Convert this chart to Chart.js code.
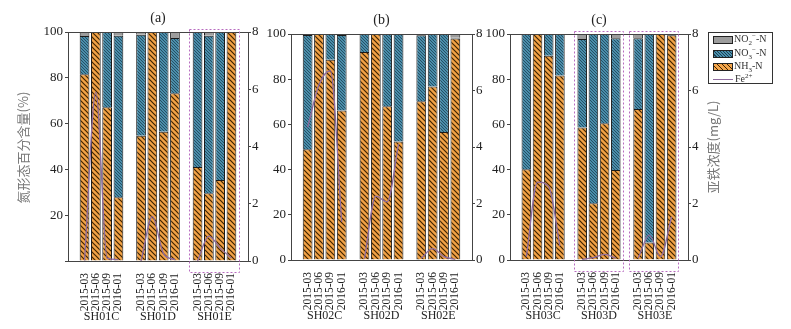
<!DOCTYPE html>
<html>
<head>
<meta charset="utf-8">
<script src="https://cdn.jsdelivr.net/npm/chart.js@4.4.1/dist/chart.umd.min.js"></script>
<style>
  body { margin: 0; background: #fff; }
  #wrap { position: relative; width: 791px; height: 329px; overflow: hidden; }
  #wrap canvas { position: absolute; top: 0; }
  #legend { position: absolute; left: 708px; top: 32px; width: 63px; height: 50px;
    border: 1px solid #333; font: 10px "Liberation Serif", serif; color: #333; }
  #legend .row { position: absolute; left: 4px; height: 12px; line-height: 12px; white-space: nowrap; }
  #legend .sw { display: inline-block; width: 18px; height: 6px; border: 1px solid #222;
    vertical-align: middle; margin-right: 1px; }
  #legend .ln { display: inline-block; width: 20px; height: 0; border-top: 1px solid #8e6b9e;
    vertical-align: middle; margin-right: 2px; }
  #legend sub, #legend sup { font-size: 7px; line-height: 0; }
</style>
</head>
<body>
<div id="wrap">
  <canvas id="ca" width="264" height="329" style="left:0"></canvas>
  <canvas id="cb" width="220" height="329" style="left:264px"></canvas>
  <canvas id="cc" width="246" height="329" style="left:484px"></canvas>
  <div id="legend">
    <div class="row" style="top:0px"><span class="sw" style="background:#9d9d9d"></span>NO<sub>2</sub><sup>−</sup>-N</div>
    <div class="row" style="top:14px"><span class="sw" style="background:repeating-linear-gradient(45deg,#4a90ad 0 1.4px,#1d3f52 1.4px 2.2px)"></span>NO<sub>3</sub><sup>−</sup>-N</div>
    <div class="row" style="top:27px"><span class="sw" style="background:repeating-linear-gradient(45deg,#f4a54a 0 2.6px,#3f2400 2.6px 3.5px)"></span>NH<sub>3</sub>-N</div>
    <div class="row" style="top:40px"><span class="ln"></span>Fe<sup>2+</sup></div>
  </div>
</div>
<script>
const dates = ["2015-03", "2015-06", "2015-09", "2016-01"];

// panel (a)
const groupsA = ["SH01C", "SH01D", "SH01E"];
const nh4A = [81.5, 100, 67.1, 27.8, 54.7, 100, 56.4, 73.3, 41.0, 29.6, 35.4, 100];
const no3A = [16.7, 0, 32.9, 70.6, 44.1, 0, 43.6, 24.1, 59.0, 68.8, 64.6, 0];
const no2A = [1.8, 0, 0, 1.6, 1.2, 0, 0, 2.6, 0, 1.6, 0, 0];
const feA = [0.02, 5.9, 0.1, 0.05, 0.0, 1.55, 0.25, 0.05, 0.0, 0.87, 0.45, 0.1];

// panel (b)
const groupsB = ["SH02C", "SH02D", "SH02E"];
const nh4B = [49.0, 100, 88.6, 66.2, 92.0, 100, 68.0, 52.4, 70.2, 76.8, 56.6, 98.0];
const no3B = [50.6, 0, 11.4, 33.4, 8.0, 0, 32.0, 47.6, 29.3, 23.2, 43.4, 0.3];
const no2B = [0.4, 0, 0, 0.4, 0, 0, 0, 0, 0.5, 0, 0, 1.7];
const feB = [4.7, 6.2, 6.7, 1.35, 0.05, 2.26, 2.06, 4.1, 0.06, 0.4, 0.12, 0.02];

// panel (c)
const groupsC = ["SH03C", "SH03D", "SH03E"];
const nh4C = [40.1, 100, 90.4, 81.6, 58.6, 25.1, 60.5, 39.8, 66.8, 7.7, 100, 99.5];
const no3C = [59.9, 0, 9.6, 18.4, 39.2, 74.9, 39.5, 58.3, 31.3, 92.3, 0, 0.5];
const no2C = [0, 0, 0, 0, 2.2, 0, 0, 1.9, 1.9, 0, 0, 0];
const feC = [0.12, 2.76, 2.6, 0.5, 0.02, 0.08, 0.2, 0.06, 0.06, 0.88, 0.12, 1.53];

const pctTicks = [0, 20, 40, 60, 80, 100];
const feTicks = [0, 2, 4, 6, 8];

const serif = "'Liberation Serif', 'Times New Roman', serif";
const cjk = "'Noto Sans CJK SC', sans-serif";
const axisColor = "#444";
const textColor = "#222";

function makeHatch(bg, fg, size, lw) {
  const c = document.createElement("canvas");
  c.width = size;
  c.height = size;
  const g = c.getContext("2d");
  g.fillStyle = bg;
  g.fillRect(0, 0, size, size);
  g.strokeStyle = fg;
  g.lineWidth = lw;
  g.beginPath();
  g.moveTo(-1, -1); g.lineTo(size + 1, size + 1);
  g.moveTo(-1, size - 1); g.lineTo(1, size + 1);
  g.moveTo(size - 1, -1); g.lineTo(size + 1, 1);
  g.stroke();
  return g.createPattern(c, "repeat");
}

const orangeHatch = makeHatch("#f2a246", "#3f2400", 5, 1.2);
const blueHatch = makeHatch("#4a8eab", "#1d3f52", 3, 0.8);

// 4 bars per group, one empty slot between groups
const slotOf = (k) => k + Math.floor(k / 4);
const slotLabels = [];
for (let k = 0; k < 12; k++) {
  slotLabels[slotOf(k)] = dates[k % 4];
}

const decor = {
  id: "decor",
  afterDraw(chart, args, o) {
    const { ctx, chartArea: a } = chart;
    const x = chart.scales.x;
    const step = x.getPixelForValue(1) - x.getPixelForValue(0);
    ctx.save();
    ctx.strokeStyle = axisColor;
    ctx.lineWidth = 1;
    ctx.beginPath();
    ctx.moveTo(a.left, a.top + 0.5);
    ctx.lineTo(a.right, a.top + 0.5);
    ctx.stroke();

    ctx.fillStyle = textColor;
    ctx.textAlign = "center";
    ctx.textBaseline = "middle";
    ctx.font = "14px " + serif;
    ctx.fillText(o.title, (a.left + a.right) / 2, a.top - 14);

    ctx.font = "12px " + serif;
    o.groups.forEach((g, k) => {
      const cx = (x.getPixelForValue(slotOf(k * 4)) + x.getPixelForValue(slotOf(k * 4 + 3))) / 2;
      ctx.fillText(g, cx, a.bottom + 56);
    });

    ctx.strokeStyle = "#b86cc0";
    ctx.setLineDash([2, 2]);
    (o.boxes || []).forEach((k) => {
      const l = x.getPixelForValue(slotOf(k * 4)) - step * 0.78;
      const r = x.getPixelForValue(slotOf(k * 4 + 3)) + step * 0.62;
      ctx.strokeRect(Math.round(l) + 0.5, a.top - 2.5, Math.round(r - l), a.bottom - a.top + 14);
    });
    ctx.setLineDash([]);

    ctx.fillStyle = "#777";
    ctx.font = "13px " + cjk;
    if (o.leftTitle) {
      ctx.save();
      ctx.translate(a.left - 45, (a.top + a.bottom) / 2 + 1);
      ctx.rotate(-Math.PI / 2);
      ctx.fillText(o.leftTitle, 0, 0);
      ctx.restore();
    }
    if (o.rightTitle) {
      ctx.save();
      ctx.translate(a.right + 25, (a.top + a.bottom) / 2);
      ctx.rotate(-Math.PI / 2);
      ctx.fillText(o.rightTitle, 0, 0);
      ctx.restore();
    }
    ctx.restore();
  },
};

function panel(id, p) {
  const bars = (vals) => vals.map((v, k) => ({ x: slotOf(k), y: v }));
  const fe = [];
  p.fe.forEach((v, k) => {
    fe.push({ x: slotOf(k), y: v });
    if (k % 4 === 3 && k < 11) fe.push({ x: slotOf(k) + 1, y: null });
  });
  const barStyle = { borderColor: "#1a1a1a", borderWidth: 1, order: 1, categoryPercentage: 1, barPercentage: 0.86 };

  new Chart(document.getElementById(id), {
    type: "bar",
    data: {
      datasets: [
        { label: "NH3-N", data: bars(p.nh4), backgroundColor: orangeHatch, ...barStyle },
        { label: "NO3-N", data: bars(p.no3), backgroundColor: blueHatch, ...barStyle },
        { label: "NO2-N", data: bars(p.no2), backgroundColor: "#9d9d9d", ...barStyle },
        {
          type: "line", label: "Fe2+", data: fe, yAxisID: "y1", order: 0,
          borderColor: "#8e6b9e", borderWidth: 1.3, pointRadius: 0,
          cubicInterpolationMode: "monotone", spanGaps: false,
        },
      ],
    },
    options: {
      responsive: false,
      animation: false,
      devicePixelRatio: 1,
      layout: { padding: { top: p.top, left: 0, right: 0, bottom: 0 } },
      plugins: {
        legend: { display: false },
        tooltip: { enabled: false },
        decor: p.decor,
      },
      scales: {
        x: {
          type: "linear", min: -0.8, max: 13.8, stacked: true,
          afterBuildTicks: (s) => { s.ticks = slotLabels.map((l, i) => ({ value: i })).filter((t) => slotLabels[t.value]); },
          ticks: {
            autoSkip: false, minRotation: 90, maxRotation: 90, padding: 4,
            font: { family: serif, size: 11.5 }, color: textColor,
            callback: (v) => slotLabels[v] || "",
          },
          grid: { display: false },
          border: { color: axisColor },
          afterFit: (s) => { s.height = p.xh; },
        },
        y: {
          position: "left", min: 0, max: 100, stacked: true,
          afterBuildTicks: (s) => { s.ticks = pctTicks.map((v) => ({ value: v })); },
          ticks: {
            padding: 2, font: { family: serif, size: 13 }, color: textColor,
            callback: (v) => (p.hideZero && v === 0 ? "" : v),
          },
          grid: { drawOnChartArea: false, tickLength: 3, color: axisColor },
          border: { color: axisColor },
          afterFit: (s) => { s.width = p.yw; },
        },
        y1: {
          position: "right", min: 0, max: 8,
          afterBuildTicks: (s) => { s.ticks = feTicks.map((v) => ({ value: v })); },
          ticks: { padding: 1, font: { family: serif, size: 13 }, color: textColor },
          grid: { drawOnChartArea: false, tickLength: 3, color: axisColor },
          border: { color: axisColor },
          afterFit: (s) => { s.width = p.y1w; },
        },
      },
    },
    plugins: [decor],
  });
}

panel("ca", {
  nh4: nh4A, no3: no3A, no2: no2A, fe: feA,
  top: 32, xh: 68, yw: 68, y1w: 16, hideZero: true,
  decor: { title: "(a)", groups: groupsA, boxes: [2], leftTitle: "氮形态百分含量(%)" },
});
panel("cb", {
  nh4: nh4B, no3: no3B, no2: no2B, fe: feB,
  top: 34, xh: 69, yw: 27, y1w: 12, hideZero: false,
  decor: { title: "(b)", groups: groupsB, boxes: [] },
});
panel("cc", {
  nh4: nh4C, no3: no3C, no2: no2C, fe: feC,
  top: 34, xh: 69, yw: 26, y1w: 42, hideZero: false,
  decor: { title: "(c)", groups: groupsC, boxes: [1, 2], rightTitle: "亚铁浓度(mg/L)" },
});
</script>
</body>
</html>
